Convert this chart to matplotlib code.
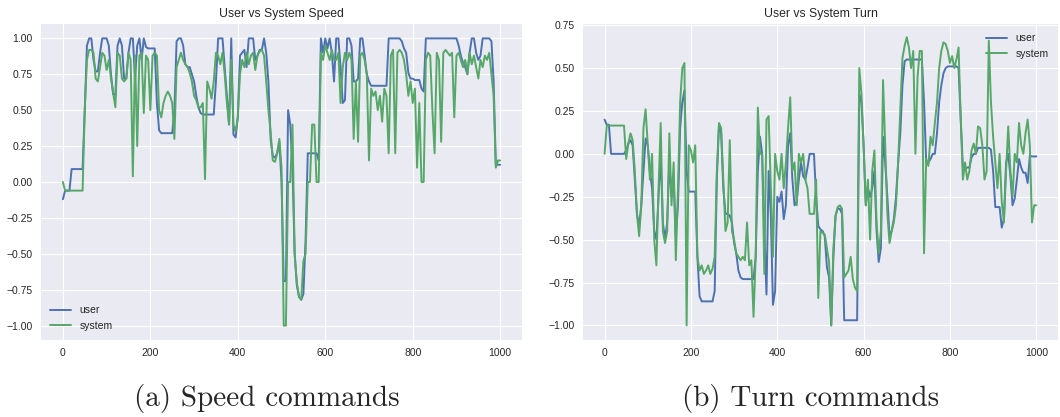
import numpy as np
import matplotlib as mpl
mpl.use('Agg')
import matplotlib.pyplot as plt

# time steps, one reading every 5 steps
steps = list(range(0, 1001, 5))

speed_user = [
    -0.12, -0.06, -0.06, -0.06, 0.09, 0.09, 0.09, 0.09, 0.09, 0.09,
    0.5, 0.95, 1.0, 1.0, 0.85, 0.77, 0.77, 0.9, 1.0, 1.0,
    1.0, 0.95, 0.75, 0.61, 0.61, 0.95, 1.0, 0.95, 0.72, 0.72,
    0.9, 1.0, 1.0, 0.72, 0.95, 1.0, 0.85, 1.0, 0.94, 0.93,
    0.93, 0.93, 0.93, 0.55, 0.36, 0.34, 0.34, 0.34, 0.34, 0.34,
    0.34, 0.5, 0.98, 1.0, 1.0, 0.95, 0.82, 0.8, 0.8, 0.75,
    0.7, 0.6, 0.52, 0.48, 0.47, 0.47, 0.47, 0.47, 0.47, 0.47,
    0.7, 1.0, 1.0, 1.0, 0.8, 0.6, 0.4, 1.0, 0.33, 0.31,
    0.45, 0.88, 0.9, 0.92, 0.8, 1.0, 1.0, 1.0, 0.85, 0.88,
    0.92, 0.92, 1.0, 0.9, 0.7, 0.3, 0.18, 0.17, 0.2, 0.28,
    0.0, -0.69, -0.69, 0.5, 0.4, 0.1, -0.5, -0.72, -0.8, -0.82,
    -0.78, -0.4, 0.2, 0.2, 0.2, 0.2, 0.2, 0.15, 1.0, 0.9,
    1.0, 0.93, 1.0, 0.9, 0.7, 1.0, 1.0, 0.8, 0.55, 0.57,
    1.0, 1.0, 0.95, 0.7, 0.7, 0.72, 1.0, 1.0, 0.88, 0.75,
    0.7, 0.67, 0.67, 0.67, 0.67, 0.67, 0.67, 0.67, 0.67, 1.0,
    1.0, 1.0, 1.0, 1.0, 1.0, 0.98, 0.93, 0.9, 0.76, 0.72,
    0.72, 0.71, 0.71, 0.71, 0.65, 0.63, 1.0, 1.0, 1.0, 1.0,
    1.0, 1.0, 1.0, 1.0, 1.0, 1.0, 1.0, 1.0, 1.0, 1.0,
    1.0, 0.95, 0.88, 0.83, 0.8, 0.75, 0.9, 1.0, 1.0, 0.9,
    0.85, 0.88, 1.0, 1.0, 1.0, 1.0, 0.98, 0.7, 0.12, 0.12,
    0.12,
]

speed_system = [
    0.0, -0.06, -0.06, -0.06, -0.06, -0.06, -0.06, -0.06, -0.06, -0.06,
    0.5, 0.85, 0.92, 0.92, 0.9, 0.72, 0.7, 0.8, 0.9, 0.88,
    0.78, 0.85, 0.72, 0.62, 0.52, 0.9, 0.88, 0.72, 0.7, 0.72,
    0.9, 0.85, 0.04, 0.88, 0.25, 0.88, 0.9, 0.48, 0.88, 0.85,
    0.5, 0.88, 0.9, 0.88, 0.5, 0.45, 0.55, 0.6, 0.63, 0.6,
    0.55, 0.3, 0.8, 0.85, 0.9, 0.85, 0.82, 0.8, 0.76, 0.7,
    0.6, 0.57, 0.52, 0.52, 0.55, 0.02, 0.7, 0.65, 0.58, 0.7,
    0.9, 0.88, 0.82, 0.9, 0.75, 0.55, 0.4, 0.85, 0.4, 0.35,
    0.45, 0.75, 0.85, 0.8, 0.9, 0.82, 0.88, 0.9, 0.78, 0.88,
    0.91, 0.92, 0.88, 0.7, 0.5, 0.35, 0.15, 0.14, 0.2, 0.3,
    0.1, -1.0, -1.0, 0.0, 0.0, 0.4, -0.5, -0.7, -0.8, -0.82,
    -0.55, -0.5, 0.0, 0.0, 0.4, 0.4, 0.0, 0.0, 0.9, 0.85,
    0.95, 0.9, 0.85, 0.92, 0.85, 0.85, 0.9, 0.55, 0.8, 0.9,
    0.85, 0.9, 0.85, 0.3, 0.7, 0.28, 0.88, 0.9, 0.85, 0.75,
    0.15, 0.65, 0.6, 0.63, 0.5, 0.6, 0.42, 0.65, 0.6, 0.2,
    0.88, 0.92, 0.2, 0.9, 0.92, 0.9, 0.85, 0.75, 0.6, 0.7,
    0.55, 0.65, 0.1, 0.55, 0.0, 0.0, 0.85, 0.9, 0.88, 0.5,
    0.2, 0.9, 0.85, 0.28, 0.9, 0.92, 0.9, 0.88, 0.9, 0.45,
    0.88, 0.9, 0.85, 0.8, 0.85, 0.75, 0.9, 0.82, 0.88, 0.8,
    0.72, 0.85, 0.8, 0.88, 0.85, 0.9, 0.75, 0.6, 0.1, 0.15,
    0.15,
]

turn_user = [
    0.2, 0.17, 0.17, 0.0, 0.0, 0.0, 0.0, 0.0, 0.0, 0.0,
    0.02, 0.06, 0.08, 0.05, -0.15, -0.35, -0.42, -0.3, -0.1, 0.09,
    0.05, -0.1, -0.2, -0.45, -0.5, -0.25, 0.0, -0.4, -0.5, -0.4,
    -0.05, -0.25, -0.15, -0.48, -0.3, 0.15, 0.3, 0.37, -0.1, -0.22,
    -0.22, -0.22, -0.22, -0.6, -0.83, -0.86, -0.86, -0.86, -0.86, -0.86,
    -0.86, -0.8, -0.15, 0.17, 0.12, -0.2, -0.35, -0.35, -0.36, -0.4,
    -0.52, -0.58, -0.68, -0.72, -0.73, -0.73, -0.73, -0.73, -0.73, -0.73,
    -0.6, -0.1, 0.1, 0.0, -0.45, -0.82, -0.1, -0.35, -0.88, -0.8,
    -0.25, -0.28, -0.22, -0.38, -0.3, 0.05, 0.12, -0.15, -0.3, -0.28,
    -0.15, -0.05, -0.13, -0.15, -0.08, 0.0, 0.0, 0.0, -0.25, -0.42,
    -0.44, -0.45, -0.48, -0.66, -0.72, -1.0, -0.6, -0.36, -0.32, -0.32,
    -0.35, -0.97, -0.97, -0.97, -0.97, -0.97, -0.97, -0.97, 0.35, 0.3,
    0.05, -0.3, -0.2, -0.25, -0.2, -0.1, -0.45, -0.63, -0.55, 0.1,
    -0.05, -0.25, -0.48, -0.45, -0.38, -0.25, -0.05, 0.12, 0.4, 0.54,
    0.55, 0.55, 0.55, 0.55, 0.55, 0.55, 0.55, 0.55, 0.3, -0.05,
    -0.05, -0.03, 0.0, 0.0, 0.12, 0.3, 0.4, 0.47, 0.5, 0.51,
    0.51, 0.51, 0.51, 0.51, 0.5, 0.2, -0.08, -0.08, -0.08, -0.08,
    -0.02, 0.0, 0.0, 0.035, 0.035, 0.035, 0.035, 0.035, 0.035, 0.025,
    -0.1, -0.31, -0.31, -0.31, -0.43, -0.38, -0.05, 0.0, -0.13, -0.3,
    -0.26, -0.15, -0.03, -0.08, -0.11, -0.11, -0.17, -0.01, -0.015, -0.015,
    -0.015,
]

turn_system = [
    0.0, 0.165, 0.165, 0.165, 0.165, 0.165, 0.165, 0.165, 0.165, 0.165,
    -0.03, 0.06, 0.12, 0.08, -0.1, -0.35, -0.48, -0.3, 0.15, 0.26,
    0.05, -0.15, 0.0, -0.5, -0.65, -0.2, 0.18, -0.45, -0.52, -0.45,
    0.12, -0.3, -0.05, -0.62, -0.2, 0.3, 0.5, 0.53, -1.0, 0.05,
    0.02, -0.05, 0.05, -0.6, -0.68, -0.65, -0.7, -0.68, -0.65, -0.7,
    -0.67, -0.6, -0.1, 0.18, 0.15, -0.15, -0.45, -0.4, 0.08, -0.45,
    -0.5, -0.58, -0.6, -0.62, -0.6, -0.62, -0.4, -0.65, -0.62, -0.95,
    -0.6, 0.27, 0.0, 0.0, -0.7, 0.2, 0.22, -0.2, -0.6, 0.0,
    -0.1, -0.15, 0.0, -0.2, -0.05, 0.15, 0.33, -0.1, -0.05, -0.3,
    0.0, -0.05, 0.0, -0.15, -0.2, -0.35, -0.35, -0.35, -0.15, -0.84,
    -0.45, -0.46, -0.47, -0.55, -0.63, -1.0, -0.55, -0.36, -0.31, -0.3,
    -0.32, -0.72, -0.7, -0.68, -0.6, -0.73, -0.78, -0.8, 0.5, 0.35,
    0.05, -0.3, -0.15, -0.5, -0.1, 0.02, -0.4, -0.58, -0.45, 0.43,
    0.05, -0.35, -0.52, -0.45, -0.4, -0.3, -0.05, 0.25, 0.56, 0.63,
    0.68, 0.62, 0.5, 0.6, 0.0, 0.45, 0.6, 0.6, -0.58, -0.03,
    -0.07, 0.1, 0.05, 0.18, 0.3, 0.5, 0.6, 0.65, 0.64, 0.6,
    0.53, 0.57, 0.5, 0.55, 0.62, 0.2, -0.15, -0.05, -0.15, -0.1,
    0.02, 0.06, 0.0, 0.16, 0.15, 0.05, -0.15, -0.1, 0.66, 0.3,
    0.1, -0.05, -0.2, 0.0, -0.28, -0.4, -0.1, 0.16, -0.1, -0.25,
    0.0, -0.05, 0.18, 0.05, 0.0, 0.12, 0.2, 0.05, -0.4, -0.3,
    -0.3,
]

plt.style.use('seaborn-v0_8-darkgrid')
plt.rcParams['font.family'] = ['Liberation Sans', 'DejaVu Sans']

blue = '#4C72B0'
green = '#55A868'

fig = plt.figure(figsize=(10.6, 4.17), dpi=100)
ax1 = fig.add_axes([0.0387, 0.1847, 0.4538, 0.7577])
ax2 = fig.add_axes([0.5500, 0.1847, 0.4480, 0.7577])

panels = [
    (ax1, speed_user, speed_system, 'User vs System Speed', 'lower left', (-1.1, 1.1)),
    (ax2, turn_user, turn_system, 'User vs System Turn', 'upper right', (-1.085, 0.757)),
]
for ax, user, system, title, loc, ylim in panels:
    ax.plot(steps, user, color=blue, lw=1.4, label='user')
    ax.plot(steps, system, color=green, lw=1.4, label='system')
    ax.set_xlim(-50, 1050)
    ax.set_ylim(*ylim)
    ax.set_xticks([0, 200, 400, 600, 800, 1000])
    ax.tick_params(labelsize=7.5, colors='.15', length=0, pad=6)
    ax.set_title(title, fontsize=8.8, color='.15', pad=5)
    ax.legend(loc=loc, fontsize=7.5, frameon=False)

ax1.set_yticks(np.arange(-1.0, 1.01, 0.25))
ax2.set_yticks(np.arange(-1.0, 0.76, 0.25))

# subfigure captions
fig.text(0.252, 0.027, '(a) Speed commands', family='cmr10', fontsize=21,
         ha='center', va='baseline')
fig.text(0.765, 0.027, '(b) Turn commands', family='cmr10', fontsize=21,
         ha='center', va='baseline')

fig.savefig('out.png', dpi=100)
